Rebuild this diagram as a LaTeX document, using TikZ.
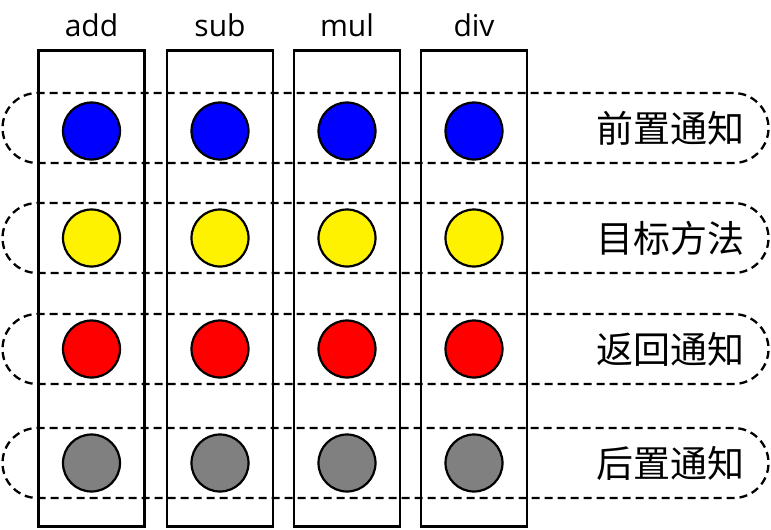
\documentclass[tikz,border=0pt]{standalone}
\usepackage{fontspec}
\setmainfont{Open Sans}
\newfontfamily\cjk{Noto Sans CJK SC}
\usepackage{tikz}

\tikzset{
	method/.style={draw, line width=2.5pt, minimum width=106pt, minimum height=476pt, inner sep=0pt},
	lane/.style={draw, dash pattern=on 8pt off 5pt, line width=2.3pt, rounded corners=35pt, minimum width=766pt, minimum height=70pt, inner sep=0pt},
	dot/.style={circle, draw, line width=2.2pt, minimum size=57pt, inner sep=0pt},
	title/.style={font=\fontsize{30}{32}\selectfont, anchor=base},
	step name/.style={font=\cjk\fontsize{37}{40}\selectfont, anchor=east, inner sep=0pt}
}

\begin{document}
\begin{tikzpicture}[x=1pt, y=-1pt]
					\useasboundingbox (0,0) rectangle (771,530);
					% methods (columns)
					\foreach \name/\cx in {add/91.5, sub/220, mul/347, div/474} {
						\node[method] (m-\name) at (\cx, 288.5) {};
						\node[title] (t-\name) at (\cx, 36) {\name};
					}
					% advice stages (rows)
					\foreach \i/\cy/\dy/\col/\txt in {1/128/131/blue/前置通知, 2/238/238/yellow/目标方法, 3/349/349/red/返回通知, 4/463/463/gray/后置通知} {
						\node[lane] (r\i) at (385.5, \cy) {};
						\node[step name] (s\i) at (745, \cy) {\txt};
						\foreach \name/\cx in {add/91.5, sub/220, mul/347, div/474}
							\node[dot, fill=\col] (d\i-\name) at (\cx, \dy) {};
					}
				\end{tikzpicture}
\end{document}
